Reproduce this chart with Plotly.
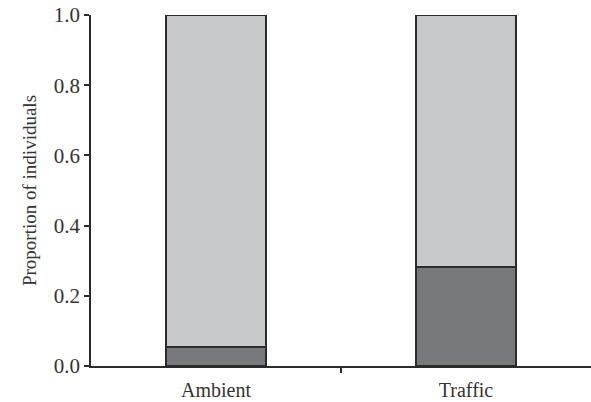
import plotly.graph_objects as go

# Proportions of individuals per condition
categories = ["Ambient", "Traffic"]
lower_share = [0.054, 0.282]          # dark segment
upper_share = [1 - v for v in lower_share]  # light segment, stacks to 1.0

y_ticks = [0.0, 0.2, 0.4, 0.6, 0.8, 1.0]
y_tick_text = ["0.0", "0.2", "0.4", "0.6", "0.8", "1.0"]

FONT = "Liberation Serif"
INK = "#2b2b2b"
x_pos = list(range(len(categories)))

fig = go.Figure()
fig.add_trace(go.Bar(
    x=x_pos, y=lower_share, width=0.4,
    marker=dict(color="#77787c", line=dict(color=INK, width=1.5)),
    showlegend=False,
))
fig.add_trace(go.Bar(
    x=x_pos, y=upper_share, width=0.4,
    marker=dict(color="#c8c9cb", line=dict(color=INK, width=1.5)),
    showlegend=False,
))

fig.update_layout(
    barmode="stack",
    width=591, height=402,
    margin=dict(l=91, r=0, t=15, b=36),
    paper_bgcolor="white", plot_bgcolor="white",
    font=dict(family=FONT, size=20, color="#333333"),
    xaxis=dict(
        range=[-0.5, 1.5],
        tickmode="array", tickvals=x_pos, ticktext=categories,
        ticks="", showgrid=False, zeroline=False,
        showline=True, linecolor=INK, linewidth=1.5,
        minor=dict(tickmode="array", tickvals=[0.5], ticks="outside",
                   ticklen=5, tickwidth=1.5, tickcolor=INK, showgrid=False),
        tickfont=dict(family=FONT, size=20),
        ticklabelstandoff=5,
    ),
    yaxis=dict(
        range=[0, 1],
        tickmode="array", tickvals=y_ticks, ticktext=y_tick_text,
        ticks="outside", ticklen=5, tickwidth=1.5, tickcolor=INK,
        showgrid=False, zeroline=False,
        showline=True, linecolor=INK, linewidth=1.5,
        tickfont=dict(family=FONT, size=21),
        title=dict(text="Proportion of individuals", font=dict(family=FONT, size=19), standoff=12),
    ),
)

# short stub of the y axis below the baseline
fig.add_shape(type="line", xref="paper", yref="y", x0=0, x1=0, y0=0, y1=-0.012,
              line=dict(color=INK, width=1.5))

fig.write_html("out.html")
